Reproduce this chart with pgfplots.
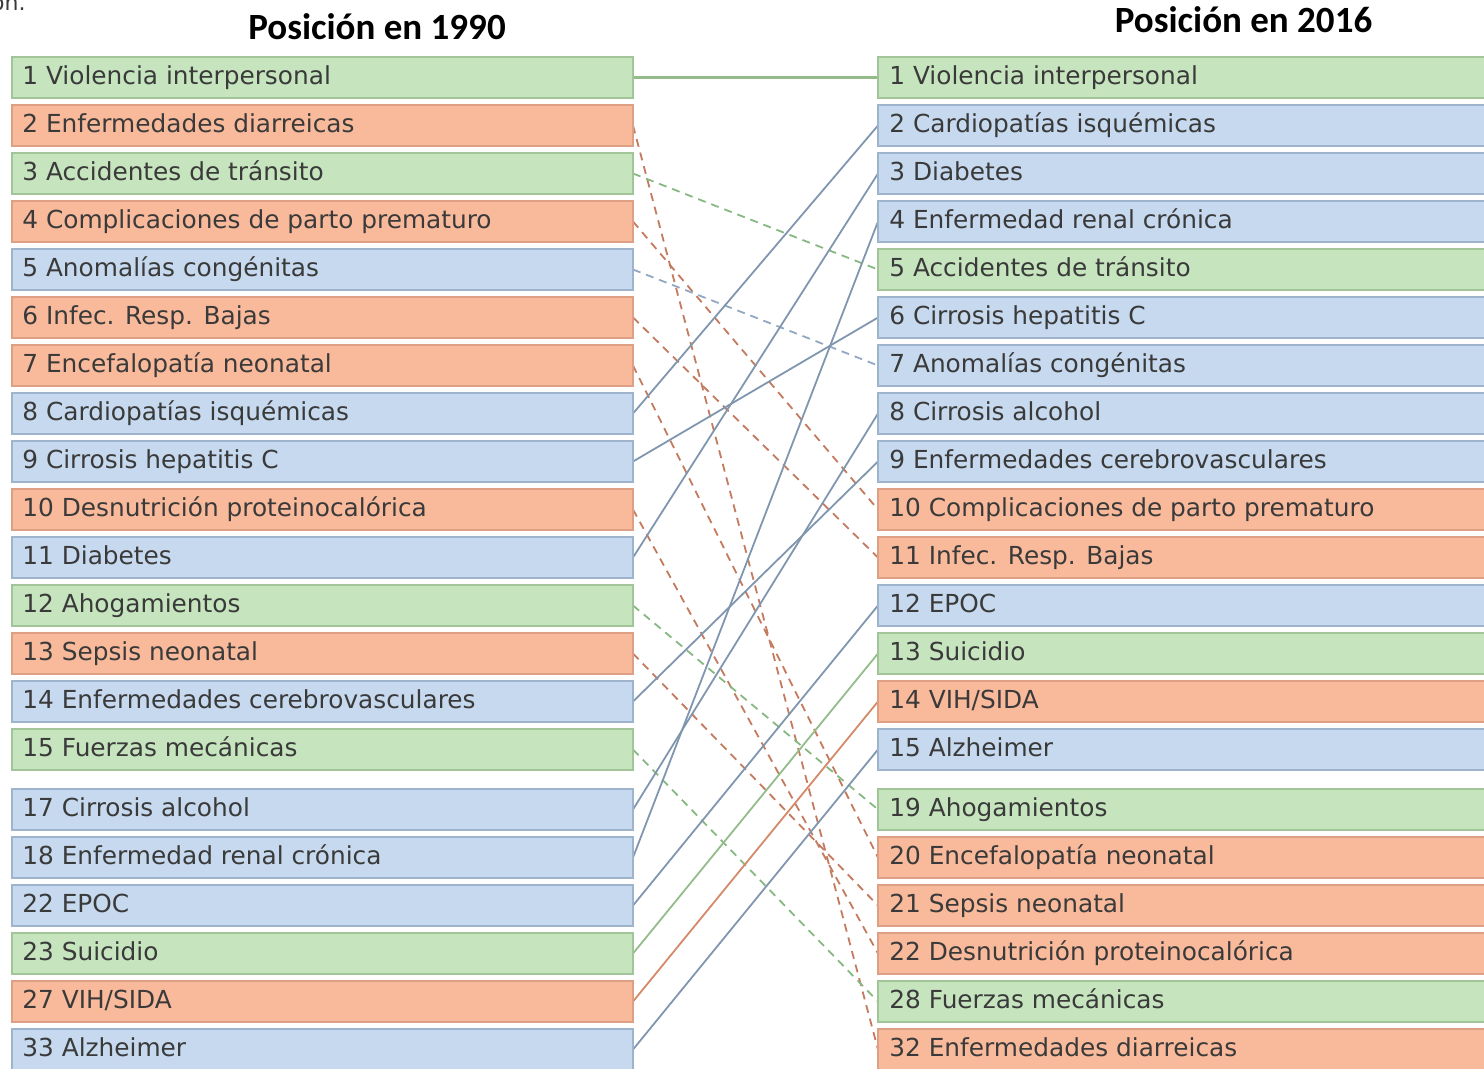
\documentclass[border=0pt]{standalone}
\usepackage{pgfplots}
\pgfplotsset{compat=1.18}
\usepackage{fontspec}
\setmainfont{DejaVu Sans}
\newfontfamily\boxfont{DejaVu Sans}
\newfontfamily\titlefont{Carlito}
\definecolor{gfill}{HTML}{C6E5BE}
\definecolor{gdraw}{HTML}{A2C499}
\definecolor{sfill}{HTML}{F9BA9C}
\definecolor{sdraw}{HTML}{DDA085}
\definecolor{bfill}{HTML}{C6D9EE}
\definecolor{bdraw}{HTML}{9EB3CC}
\definecolor{txt}{HTML}{3A3A3A}
\definecolor{lb}{HTML}{8096AE}
\definecolor{lg}{HTML}{94BC8B}
\definecolor{lo}{HTML}{D48A68}
\definecolor{dr}{HTML}{C47A5E}
\definecolor{dg}{HTML}{88B882}
\definecolor{db}{HTML}{92A8C2}
\tikzset{
  G/.style={fill=gfill,draw=gdraw,line width=1pt},
  S/.style={fill=sfill,draw=sdraw,line width=1pt},
  B/.style={fill=bfill,draw=bdraw,line width=1pt},
  lbl/.style={anchor=base west,inner sep=0pt,text=txt,font=\boxfont\fontsize{12.4}{14}\selectfont},
}
\newcommand\LB[3]{%
  \pgfmathsetmacro\bt{#1-20.5}\pgfmathsetmacro\bb{#1+20.5}\pgfmathsetmacro\ty{#1+6.5}%
  \edef\tmp{\noexpand\addplot[#2] coordinates {(12,\bt) (633,\bt) (633,\bb) (12,\bb)} -- cycle;
  \noexpand\node[lbl] at (axis cs:22,\ty) {\unexpanded{#3}};}\tmp}
\newcommand\RB[3]{%
  \pgfmathsetmacro\bt{#1-20.5}\pgfmathsetmacro\bb{#1+20.5}\pgfmathsetmacro\ty{#1+6.5}%
  \edef\tmp{\noexpand\addplot[#2] coordinates {(878,\bt) (1500,\bt) (1500,\bb) (878,\bb)} -- cycle;
  \noexpand\node[lbl] at (axis cs:889,\ty) {\unexpanded{#3}};}\tmp}
\begin{document}
\begin{tikzpicture}
\begin{axis}[
  name=ax,
  scale only axis, width=742pt, height=534pt,
  xmin=0, xmax=1484, ymin=0, ymax=1068, y dir=reverse,
  hide axis, clip=true,
  solidl/.style={line width=0.9pt},
  dashl/.style={line width=0.9pt, dash pattern=on 4pt off 3pt},
]
% connecting lines (1990 rank position -> 2016 rank position)
\addplot[lg, line width=1.1pt] coordinates {(633,77.5) (878,77.5)};
\addplot[dr, dashl] coordinates {(633,125.5) (878,1049.5)};
\addplot[dg, dashl] coordinates {(633,173.5) (878,269.5)};
\addplot[dr, dashl] coordinates {(633,221.5) (878,509.5)};
\addplot[db, dashl] coordinates {(633,269.5) (878,365.5)};
\addplot[dr, dashl] coordinates {(633,317.5) (878,557.5)};
\addplot[dr, dashl] coordinates {(633,365.5) (878,857.5)};
\addplot[lb, solidl] coordinates {(633,413.5) (878,125.5)};
\addplot[lb, solidl] coordinates {(633,461.5) (878,317.5)};
\addplot[dr, dashl] coordinates {(633,509.5) (878,953.5)};
\addplot[lb, solidl] coordinates {(633,557.5) (878,173.5)};
\addplot[dg, dashl] coordinates {(633,605.5) (878,809.5)};
\addplot[dr, dashl] coordinates {(633,653.5) (878,905.5)};
\addplot[lb, solidl] coordinates {(633,701.5) (878,461.5)};
\addplot[dg, dashl] coordinates {(633,749.5) (878,1001.5)};
\addplot[lb, solidl] coordinates {(633,809.5) (878,413.5)};
\addplot[lb, solidl] coordinates {(633,857.5) (878,221.5)};
\addplot[lb, solidl] coordinates {(633,905.5) (878,605.5)};
\addplot[lg, solidl] coordinates {(633,953.5) (878,653.5)};
\addplot[lo, solidl] coordinates {(633,1001.5) (878,701.5)};
\addplot[lb, solidl] coordinates {(633,1049.5) (878,749.5)};
% left column (1990)
\LB{77.5}{G}{1 Violencia interpersonal}
\LB{125.5}{S}{2 Enfermedades diarreicas}
\LB{173.5}{G}{3 Accidentes de tránsito}
\LB{221.5}{S}{4 Complicaciones de parto prematuro}
\LB{269.5}{B}{5 Anomalías congénitas}
\LB{317.5}{S}{6 Infec. Resp. Bajas}
\LB{365.5}{S}{7 Encefalopatía neonatal}
\LB{413.5}{B}{8 Cardiopatías isquémicas}
\LB{461.5}{B}{9 Cirrosis hepatitis C}
\LB{509.5}{S}{10 Desnutrición proteinocalórica}
\LB{557.5}{B}{11 Diabetes}
\LB{605.5}{G}{12 Ahogamientos}
\LB{653.5}{S}{13 Sepsis neonatal}
\LB{701.5}{B}{14 Enfermedades cerebrovasculares}
\LB{749.5}{G}{15 Fuerzas mecánicas}
\LB{809.5}{B}{17 Cirrosis alcohol}
\LB{857.5}{B}{18 Enfermedad renal crónica}
\LB{905.5}{B}{22 EPOC}
\LB{953.5}{G}{23 Suicidio}
\LB{1001.5}{S}{27 VIH/SIDA}
\LB{1049.5}{B}{33 Alzheimer}
% right column (2016)
\RB{77.5}{G}{1 Violencia interpersonal}
\RB{125.5}{B}{2 Cardiopatías isquémicas}
\RB{173.5}{B}{3 Diabetes}
\RB{221.5}{B}{4 Enfermedad renal crónica}
\RB{269.5}{G}{5 Accidentes de tránsito}
\RB{317.5}{B}{6 Cirrosis hepatitis C}
\RB{365.5}{B}{7 Anomalías congénitas}
\RB{413.5}{B}{8 Cirrosis alcohol}
\RB{461.5}{B}{9 Enfermedades cerebrovasculares}
\RB{509.5}{S}{10 Complicaciones de parto prematuro}
\RB{557.5}{S}{11 Infec. Resp. Bajas}
\RB{605.5}{B}{12 EPOC}
\RB{653.5}{G}{13 Suicidio}
\RB{701.5}{S}{14 VIH/SIDA}
\RB{749.5}{B}{15 Alzheimer}
\RB{809.5}{G}{19 Ahogamientos}
\RB{857.5}{S}{20 Encefalopatía neonatal}
\RB{905.5}{S}{21 Sepsis neonatal}
\RB{953.5}{S}{22 Desnutrición proteinocalórica}
\RB{1001.5}{G}{28 Fuerzas mecánicas}
\RB{1049.5}{S}{32 Enfermedades diarreicas}
% titles
\node[anchor=base, inner sep=0pt, font=\titlefont\bfseries\fontsize{18.5}{22}\selectfont] at (axis cs:377,39) {Posición en 1990};
\node[anchor=base, inner sep=0pt, font=\titlefont\bfseries\fontsize{18.5}{22}\selectfont] at (axis cs:1243.5,32) {Posición en 2016};
\node[anchor=base east, inner sep=0pt, text=txt, font=\boxfont\fontsize{11}{13}\selectfont] at (axis cs:26,10) {ón.};
\end{axis}
\pgfresetboundingbox
\useasboundingbox (ax.south west) rectangle (ax.north east);
\end{tikzpicture}
\end{document}
